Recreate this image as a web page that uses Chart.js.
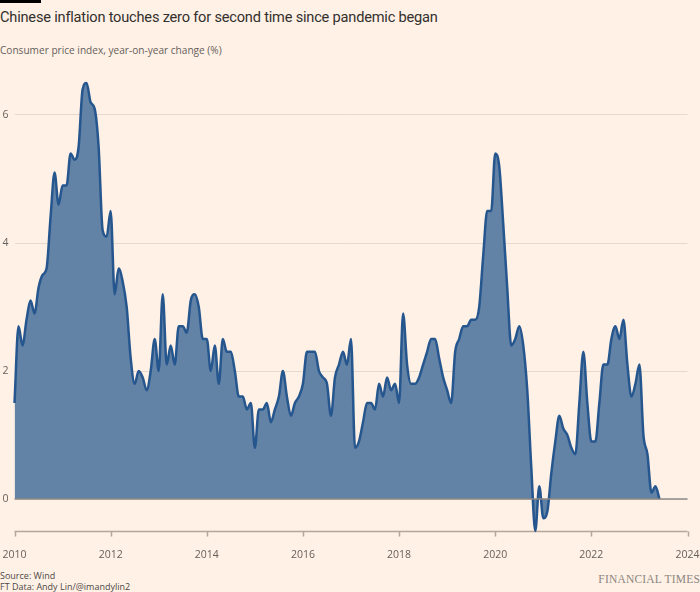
<!DOCTYPE html>
<html>
<head>
<meta charset="utf-8">
<script src="https://cdn.jsdelivr.net/npm/chart.js@4.4.1/dist/chart.umd.min.js"></script>
<style>
  html, body { margin: 0; padding: 0; background: #fff1e5; }
  body { width: 700px; height: 592px; position: relative; overflow: hidden; font-family: "Open Sans", sans-serif; }
  .topbar { position: absolute; left: 0; top: 0; width: 41px; height: 3px; background: #000; }
  .title { position: absolute; left: 0; top: 8px; font-family: Roboto, sans-serif; font-size: 14.6px; color: #33302e; letter-spacing: -0.2px; white-space: nowrap; }
  .subtitle { position: absolute; left: 0; top: 43px; font-size: 10.1px; color: #66605c; white-space: nowrap; }
  .source { position: absolute; left: 0; top: 570px; font-size: 9px; line-height: 11px; color: #4d4845; }
  .brand { position: absolute; right: 0; top: 573px; font-family: "Liberation Serif", serif; font-size: 11.5px; color: #8d8580; letter-spacing: 0.2px; }
  #chart { position: absolute; left: 0; top: 40px; }
</style>
</head>
<body>
<div class="topbar"></div>
<div class="title">Chinese inflation touches zero for second time since pandemic began</div>
<div class="subtitle">Consumer price index, year-on-year change (%)</div>
<canvas id="chart" width="700" height="520"></canvas>
<div class="source">Source: Wind<br>FT Data: Andy Lin/@imandylin2</div>
<div class="brand">FINANCIAL TIMES</div>

<script>
// monthly CPI y/y %, Jan..Dec
const years = [2010, 2011, 2012, 2013, 2014, 2015, 2016, 2017, 2018, 2019, 2020, 2021, 2022, 2023];
const cpi2010 = [1.5, 2.7, 2.4, 2.8, 3.1, 2.9, 3.3, 3.5, 3.6, 4.4, 5.1, 4.6];
const cpi2011 = [4.9, 4.9, 5.4, 5.3, 5.5, 6.4, 6.5, 6.2, 6.1, 5.5, 4.2, 4.1];
const cpi2012 = [4.5, 3.2, 3.6, 3.4, 3.0, 2.2, 1.8, 2.0, 1.9, 1.7, 2.0, 2.5];
const cpi2013 = [2.0, 3.2, 2.1, 2.4, 2.1, 2.7, 2.7, 2.6, 3.1, 3.2, 3.0, 2.5];
const cpi2014 = [2.5, 2.0, 2.4, 1.8, 2.5, 2.3, 2.3, 2.0, 1.6, 1.6, 1.4, 1.5];
const cpi2015 = [0.8, 1.4, 1.4, 1.5, 1.2, 1.4, 1.6, 2.0, 1.6, 1.3, 1.5, 1.6];
const cpi2016 = [1.8, 2.3, 2.3, 2.3, 2.0, 1.9, 1.8, 1.3, 1.9, 2.1, 2.3, 2.1];
const cpi2017 = [2.5, 0.8, 0.9, 1.2, 1.5, 1.5, 1.4, 1.8, 1.6, 1.9, 1.7, 1.8];
const cpi2018 = [1.5, 2.9, 2.1, 1.8, 1.8, 1.9, 2.1, 2.3, 2.5, 2.5, 2.2, 1.9];
const cpi2019 = [1.7, 1.5, 2.3, 2.5, 2.7, 2.7, 2.8, 2.8, 3.0, 3.8, 4.5, 4.5];
const cpi2020 = [5.4, 5.2, 4.3, 3.3, 2.4, 2.5, 2.7, 2.4, 1.7, 0.5, -0.5, 0.2];
const cpi2021 = [-0.3, -0.2, 0.4, 0.9, 1.3, 1.1, 1.0, 0.8, 0.7, 1.5, 2.3, 1.5];
const cpi2022 = [0.9, 0.9, 1.5, 2.1, 2.1, 2.5, 2.7, 2.5, 2.8, 2.1, 1.6, 1.8];
const cpi2023 = [2.1, 1.0, 0.7, 0.1, 0.2, 0.0];

const yearSeries = [cpi2010, cpi2011, cpi2012, cpi2013, cpi2014, cpi2015, cpi2016,
                    cpi2017, cpi2018, cpi2019, cpi2020, cpi2021, cpi2022, cpi2023];
const xTicks = [2010, 2012, 2014, 2016, 2018, 2020, 2022, 2024];
const yTicks = [0, 2, 4, 6];

const points = [];
years.forEach((yr, i) => {
    yearSeries[i].forEach((v, m) => points.push({ x: yr + m / 12, y: v }));
});

// x axis line with downward ticks under the data, zero baseline over the fill
const axisLines = {
    id: "axisLines",
    beforeDatasetsDraw(chart) {
        const { ctx, chartArea, scales } = chart;
        const yb = Math.round(scales.y.getPixelForValue(-0.5)) + 0.5;
        ctx.save();
        ctx.strokeStyle = "#b3a79c";
        ctx.lineWidth = 1.5;
        ctx.beginPath();
        ctx.moveTo(chartArea.left, yb);
        ctx.lineTo(chartArea.right, yb);
        xTicks.forEach(v => {
            const px = Math.round(scales.x.getPixelForValue(v)) + 0.5;
            ctx.moveTo(px, yb);
            ctx.lineTo(px, yb + 5);
        });
        ctx.stroke();
        ctx.restore();
    },
    afterDatasetsDraw(chart) {
        const { ctx, chartArea, scales } = chart;
        const y0 = scales.y.getPixelForValue(0);
        ctx.save();
        ctx.strokeStyle = "#8f8984";
        ctx.lineWidth = 1.5;
        ctx.beginPath();
        ctx.moveTo(chartArea.left, y0);
        ctx.lineTo(chartArea.right, y0);
        ctx.stroke();
        ctx.restore();
    }
};

new Chart(document.getElementById("chart"), {
    type: "line",
    data: {
        datasets: [{
            data: points,
            borderColor: "#26568e",
            borderWidth: 2.5,
            backgroundColor: "#6282a6",
            fill: "origin",
            pointRadius: 0,
            cubicInterpolationMode: "monotone",
            clip: false
        }]
    },
    options: {
        responsive: false,
        animation: false,
        layout: { padding: { top: 11, right: 12.5, left: 0, bottom: 0 } },
        plugins: { legend: { display: false }, tooltip: { enabled: false } },
        scales: {
            x: {
                type: "linear",
                min: 2010,
                max: 2024,
                afterBuildTicks: s => { s.ticks = xTicks.map(v => ({ value: v })); },
                afterFit: s => { s.height = 29; s.paddingLeft = 0; s.paddingRight = 0; },
                ticks: {
                    callback: v => String(v),
                    color: "#66605c",
                    font: { family: "Open Sans", size: 10.5 },
                    padding: 10,
                    maxRotation: 0
                },
                grid: { display: false },
                border: { display: false }
            },
            y: {
                min: -0.5,
                max: 7,
                afterBuildTicks: s => { s.ticks = yTicks.map(v => ({ value: v })); },
                afterFit: s => { s.width = 14.5; s.paddingTop = 0; s.paddingBottom = 0; },
                ticks: {
                    color: "#66605c",
                    font: { family: "Open Sans", size: 10.5 },
                    padding: 6
                },
                grid: { color: "#e6d9ce", drawTicks: false },
                border: { display: false }
            }
        }
    },
    plugins: [axisLines]
});
</script>
</body>
</html>
